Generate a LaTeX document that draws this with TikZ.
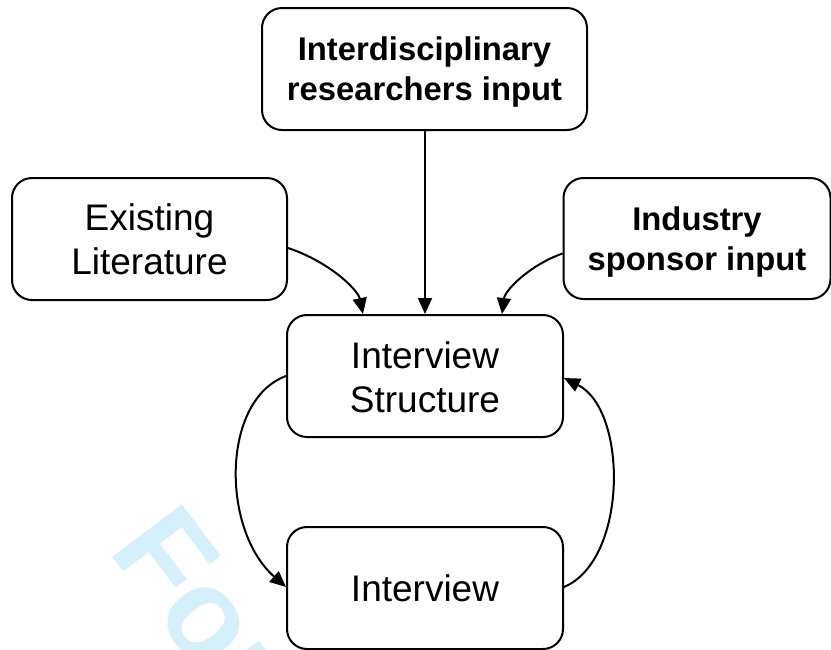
\documentclass[tikz,border=0pt]{standalone}
\usepackage{fontspec}
\setmainfont{Liberation Sans}
\usetikzlibrary{arrows.meta,calc}
\definecolor{wmark}{RGB}{212,240,251}
\tikzset{
  box/.style={draw=black, line width=2pt, rounded corners=20pt, fill=white,
    inner sep=0pt},
  regtext/.style={align=center, inner sep=0pt, font=\fontsize{37}{44}\selectfont},
  boldtext/.style={align=center, inner sep=0pt, font=\fontsize{32.8}{40}\selectfont\bfseries},
  conn/.style={line width=2pt, -{Triangle[length=16pt,width=14pt]}},
}
\begin{document}
\begin{tikzpicture}[x=1pt,y=-1pt]
\useasboundingbox (0,0) rectangle (831,649);
\clip (0,0) rectangle (831,649);
% watermark
\node[anchor=base west, rotate=-53, text=wmark, inner sep=0pt,
  font=\fontsize{127}{127}\selectfont\bfseries] (wm) at (107,550) {For};
% boxes
\node[box, minimum width=325pt, minimum height=122pt] (top) at (424.5,69) {};
\node[boldtext] (topt) at ($(top.center)+(0,3)$) {Interdisciplinary\\researchers input};
\node[box, minimum width=275pt, minimum height=122pt] (lit) at (149.5,239) {};
\node[regtext] (litt) at (lit.center) {Existing\\Literature};
\node[box, minimum width=267pt, minimum height=121pt] (ind) at (697,238.5) {};
\node[boldtext] (indt) at ($(ind.center)+(0,3.5)$) {Industry\\sponsor input};
\node[box, minimum width=276pt, minimum height=122pt] (is) at (425,376) {};
\node[regtext] (ist) at ($(is.center)+(0,1)$) {Interview\\Structure};
\node[box, minimum width=276pt, minimum height=122pt] (iv) at (425,588) {};
\node[regtext] (ivt) at (iv.center) {Interview};
% connectors
\draw[conn] (is.north |- top.south) -- (is.north);
\draw[conn] ($(lit.east)+(0,9)$) .. controls (330,262) and (358,290) .. ($(is.north)+(-62,0)$);
\draw[conn] ($(ind.west)+(0,15)$) .. controls (530,265) and (505,290) .. ($(is.north)+(77,0)$);
\draw[conn] (is.west) .. controls (221,400) and (221,530) .. ($(iv.west)+(0,-1)$);
\draw[conn] ($(iv.east)+(0,-1)$) .. controls (628,560) and (628,410) .. ($(is.east)+(0,2)$);
\end{tikzpicture}
\end{document}
